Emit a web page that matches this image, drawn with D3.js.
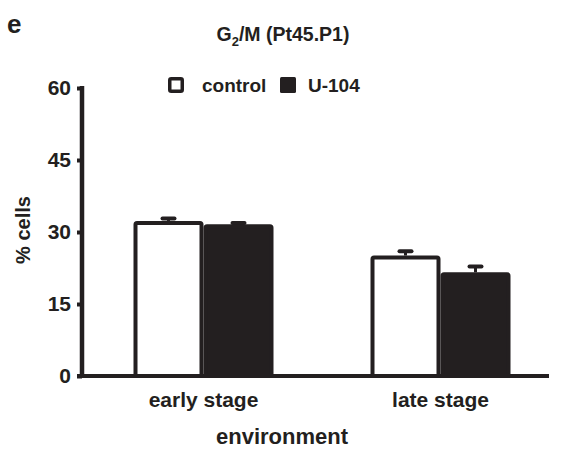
<!DOCTYPE html>
<html>
<head>
<meta charset="utf-8">
<script src="https://cdn.jsdelivr.net/npm/d3@7"></script>
<style>
  body { margin: 0; background: #fff; }
  text { font-family: "Liberation Sans", Arial, sans-serif; font-weight: bold; fill: #231f20; }
</style>
</head>
<body>
<div id="chart"></div>
<script>
// values (mean and SE, % cells)
var categories = ['early stage', 'late stage'];
var series = ['control', 'U-104'];
var controlValues = [32.3, 25.1];
var controlErr = [0.5, 0.9];
var u104Values = [31.6, 21.6];
var u104Err = [0.3, 1.2];
var yTicks = [0, 15, 30, 45, 60];

var ink = '#231f20';
var width = 564, height = 451;
var margin = { top: 88, right: 15, bottom: 75, left: 82 };

var svg = d3.select('#chart').append('svg')
  .attr('width', width)
  .attr('height', height);

var y = d3.scaleLinear()
  .domain([0, 60])
  .range([height - margin.bottom, margin.top]);

var x0 = d3.scaleBand()
  .domain(categories)
  .range([85, 559]);

var x1 = d3.scaleBand()
  .domain(series)
  .range([0, 140]);

var rows = categories.map(function(c, i) {
  return [
    { cat: c, key: 'control', value: controlValues[i], err: controlErr[i] },
    { cat: c, key: 'U-104', value: u104Values[i], err: u104Err[i] }
  ];
});
var bars = [].concat.apply([], rows);

function barX(d) {
  return x0(d.cat) + x0.bandwidth() / 2 - 70 + x1(d.key);
}

// error bars (only upper half shows above bar)
var eg = svg.append('g');
eg.selectAll('line.stem')
  .data(bars)
  .enter().append('line')
  .attr('x1', function(d) { return barX(d) + x1.bandwidth() / 2; })
  .attr('x2', function(d) { return barX(d) + x1.bandwidth() / 2; })
  .attr('y1', function(d) { return y(d.value); })
  .attr('y2', function(d) { return y(d.value + d.err); })
  .attr('stroke', ink)
  .attr('stroke-width', 3);
eg.selectAll('line.cap')
  .data(bars)
  .enter().append('line')
  .attr('x1', function(d) { return barX(d) + x1.bandwidth() / 2 - 6; })
  .attr('x2', function(d) { return barX(d) + x1.bandwidth() / 2 + 6; })
  .attr('y1', function(d) { return y(d.value + d.err); })
  .attr('y2', function(d) { return y(d.value + d.err); })
  .attr('stroke', ink)
  .attr('stroke-width', 4)
  .attr('stroke-linecap', 'round');

// bars
svg.append('g').selectAll('rect')
  .data(bars)
  .enter().append('rect')
  .attr('x', function(d) { return barX(d) + 2; })
  .attr('width', x1.bandwidth() - 4)
  .attr('y', function(d) { return y(d.value) + 2; })
  .attr('height', function(d) { return y(0) - y(d.value) - 2; })
  .attr('rx', 1.5)
  .attr('fill', function(d) { return d.key === 'control' ? '#fff' : ink; })
  .attr('stroke', ink)
  .attr('stroke-width', 4);

// y axis
var yAxis = d3.axisLeft(y)
  .tickValues(yTicks)
  .tickSize(5)
  .tickPadding(6);

var gy = svg.append('g')
  .attr('transform', 'translate(' + margin.left + ',0)')
  .call(yAxis);
gy.select('.domain').remove();
gy.selectAll('.tick line').attr('stroke', ink).attr('stroke-width', 4);
gy.selectAll('.tick text')
  .attr('font-size', 21)
  .attr('fill', ink);
gy.append('line')
  .attr('x1', 0).attr('x2', 0)
  .attr('y1', y(60) - 2).attr('y2', y(0) + 2)
  .attr('stroke', ink)
  .attr('stroke-width', 4.5);

// x axis baseline
svg.append('line')
  .attr('x1', margin.left - 5)
  .attr('x2', width - margin.right)
  .attr('y1', y(0))
  .attr('y2', y(0))
  .attr('stroke', ink)
  .attr('stroke-width', 4);

svg.append('g').selectAll('text')
  .data(categories)
  .enter().append('text')
  .attr('x', function(d) { return x0(d) + x0.bandwidth() / 2; })
  .attr('y', 407)
  .attr('text-anchor', 'middle')
  .attr('font-size', 21)
  .text(function(d) { return d; });

svg.append('text')
  .attr('x', 282)
  .attr('y', 444)
  .attr('text-anchor', 'middle')
  .attr('font-size', 22)
  .text('environment');

svg.append('text')
  .attr('transform', 'translate(30,230) rotate(-90)')
  .attr('text-anchor', 'middle')
  .attr('font-size', 20)
  .text('% cells');

// panel letter and title
svg.append('text')
  .attr('x', 7).attr('y', 33)
  .attr('font-size', 26)
  .text('e');

var title = svg.append('text')
  .attr('x', 283).attr('y', 41)
  .attr('text-anchor', 'middle')
  .attr('font-size', 19.5);
title.append('tspan').text('G');
title.append('tspan').attr('font-size', 13).attr('dy', 5).text('2');
title.append('tspan').attr('dy', -5).text('/M (Pt45.P1)');

// legend
var legend = svg.append('g').attr('transform', 'translate(168,77)');
legend.append('rect')
  .attr('x', 1.75).attr('y', 1.75)
  .attr('width', 12.5).attr('height', 12.5)
  .attr('rx', 1.5)
  .attr('fill', '#fff').attr('stroke', ink).attr('stroke-width', 3.5);
legend.append('text')
  .attr('x', 34).attr('y', 15)
  .attr('font-size', 19)
  .text('control');
legend.append('rect')
  .attr('x', 112).attr('y', 0)
  .attr('width', 16).attr('height', 16)
  .attr('rx', 1.5)
  .attr('fill', ink);
legend.append('text')
  .attr('x', 140).attr('y', 15)
  .attr('font-size', 19)
  .text('U-104');
</script>
</body>
</html>
